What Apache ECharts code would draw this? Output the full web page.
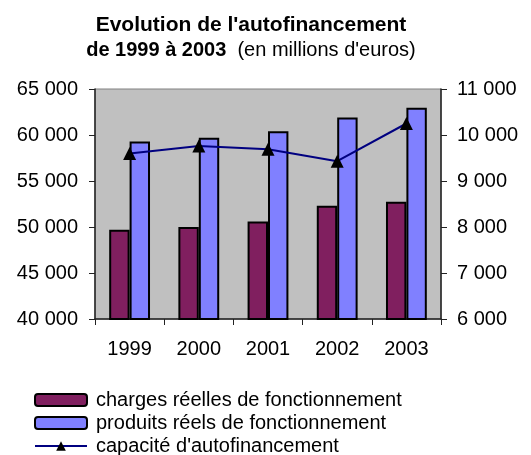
<!DOCTYPE html>
<html>
<head>
<meta charset="utf-8">
<script src="https://cdn.jsdelivr.net/npm/echarts@6/dist/echarts.min.js"></script>
<style>
  html, body { margin: 0; padding: 0; background: #fff; }
  #main { width: 531px; height: 455px; }
</style>
</head>
<body>
<div id="main"></div>
<script>
// données (millions d'euros)
var years = ["1999", "2000", "2001", "2002", "2003"];
var charges = [49700, 50000, 50600, 52300, 52750];
var produits = [59300, 59700, 60400, 61900, 62950];
var capacite = [9600, 9760, 9690, 9430, 10250];

var FONT = "'Liberation Sans', Arial, sans-serif";

// 65000 -> "65 000"
function fmt(v) {
  return String(v).replace(/\B(?=(\d{3})+(?!\d))/g, " ");
}

var mycharts = echarts.init(document.getElementById("main"));
var option = {
  animation: false,
  textStyle: { fontFamily: FONT },
  title: [
    {
      text: "Evolution de l'autofinancement",
      left: 251,
      textAlign: "center",
      top: 15,
      padding: 0,
      textStyle: { fontFamily: FONT, fontSize: 21, fontWeight: "bold", color: "#000" }
    },
    {
      text: "{b|de 1999 à 2003}{n|  (en millions d'euros)}",
      left: 251,
      textAlign: "center",
      top: 40,
      padding: 0,
      textStyle: {
        fontWeight: "normal",
        rich: {
          b: { fontFamily: FONT, fontSize: 20, fontWeight: "bold", color: "#000" },
          n: { fontFamily: FONT, fontSize: 20, fontWeight: "normal", color: "#000" }
        }
      }
    }
  ],
  legend: {
    orient: "vertical",
    left: 34,
    top: 390,
    height: 80,
    padding: 0,
    itemWidth: 52,
    itemHeight: 12,
    itemGap: 3,
    textStyle: { fontFamily: FONT, fontSize: 20, color: "#000", padding: [0, 0, 0, 4] },
    data: [
      "charges réelles de fonctionnement",
      "produits réels de fonctionnement",
      "capacité d'autofinancement"
    ]
  },
  grid: {
    left: 95,
    right: 90,
    top: 89,
    bottom: 136,
    show: true,
    backgroundColor: "#C0C0C0",
    borderColor: "#808080",
    borderWidth: 1
  },
  xAxis: {
    type: "category",
    data: years,
    axisLine: { lineStyle: { color: "#222", width: 1.5 } },
    axisTick: { show: true, length: 6, lineStyle: { color: "#222" } },
    axisLabel: { fontFamily: FONT, fontSize: 20, color: "#000", margin: 20 },
    splitLine: { show: false }
  },
  yAxis: [
    {
      type: "value",
      min: 40000,
      max: 65000,
      interval: 5000,
      axisLine: { show: true, lineStyle: { color: "#222", width: 1.5 } },
      axisTick: { show: true, length: 6, lineStyle: { color: "#222" } },
      axisLabel: { fontFamily: FONT, fontSize: 20, color: "#000", margin: 17, formatter: fmt },
      splitLine: { show: false }
    },
    {
      type: "value",
      min: 6000,
      max: 11000,
      interval: 1000,
      axisLine: { show: true, lineStyle: { color: "#222", width: 1.5 } },
      axisTick: { show: true, length: 6, lineStyle: { color: "#222" } },
      axisLabel: { fontFamily: FONT, fontSize: 20, color: "#000", margin: 16, formatter: fmt },
      splitLine: { show: false }
    }
  ],
  series: [
    {
      name: "charges réelles de fonctionnement",
      type: "bar",
      yAxisIndex: 0,
      barGap: "0%",
      barCategoryGap: "41%",
      itemStyle: { color: "#801F5F", borderColor: "#000", borderWidth: 2 },
      data: charges
    },
    {
      name: "produits réels de fonctionnement",
      type: "bar",
      yAxisIndex: 0,
      itemStyle: { color: "#8080FF", borderColor: "#000", borderWidth: 2 },
      data: produits
    },
    {
      name: "capacité d'autofinancement",
      type: "line",
      yAxisIndex: 1,
      symbol: "triangle",
      symbolSize: 13,
      lineStyle: { color: "#000080", width: 2 },
      itemStyle: { color: "#000" },
      data: capacite
    }
  ]
};
mycharts.setOption(option);
</script>
</body>
</html>
